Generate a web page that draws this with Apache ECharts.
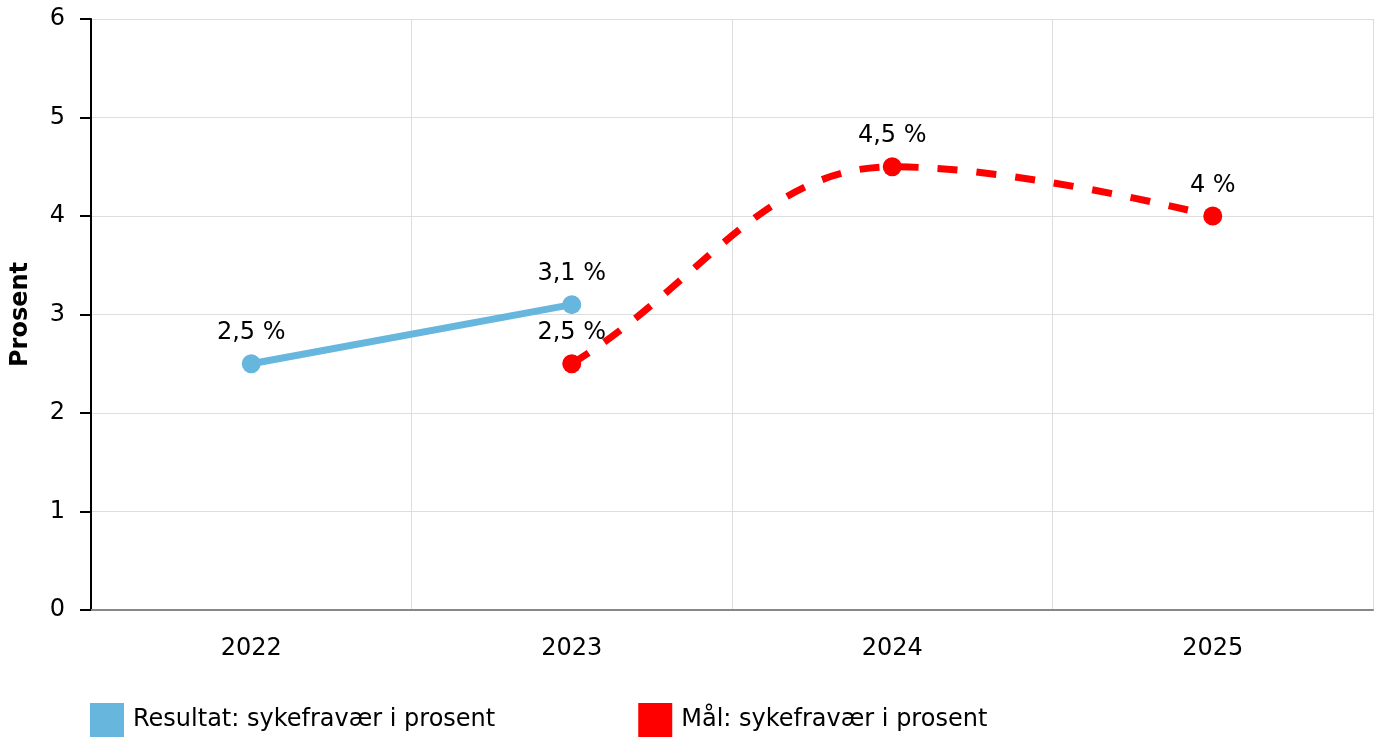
<!DOCTYPE html>
<html><head><meta charset="utf-8">
<script src="https://cdn.jsdelivr.net/npm/echarts@6/dist/echarts.min.js"></script>
<style>html,body{margin:0;padding:0;background:#fff}#c{width:1377px;height:738px}</style>
</head><body><div id="c"></div>
<script>
const categories = ['2022', '2023', '2024', '2025'];
const resultat = [2.5, 3.1, null, null];
const maal = [null, 2.5, 4.5, 4];
const seriesNames = ['Resultat: sykefravær i prosent', 'Mål: sykefravær i prosent'];
const yAxisName = 'Prosent';

const font = 'DejaVu Sans';
const FS = 24;
const BLUE = '#66b6de', RED = '#ff0000';
const fmt = p => String(p.value).replace('.', ',') + ' %';

// Spline path (control points derived from projected data points)
function splinePath(values, api) {
  const pts = values.map((v, i) => v == null ? null : api.coord([i, v]));
  const segs = [];
  let cur = [];
  pts.forEach(p => { if (p) cur.push(p); else { if (cur.length) segs.push(cur); cur = []; } });
  if (cur.length) segs.push(cur);
  const s = 1.5, d = s + 1;
  let path = '';
  segs.forEach(seg => {
    const ctrl = seg.map((p, i) => {
      const prev = seg[i - 1], next = seg[i + 1];
      if (prev && next) {
        let lx = (s * p[0] + prev[0]) / d, ly = (s * p[1] + prev[1]) / d;
        let rx = (s * p[0] + next[0]) / d, ry = (s * p[1] + next[1]) / d;
        if (rx !== lx) {
          const corr = ((ry - ly) * (rx - p[0])) / (rx - lx) + p[1] - ry;
          ly += corr; ry += corr;
        }
        if (ly > prev[1] && ly > p[1]) { ly = Math.max(prev[1], p[1]); ry = 2 * p[1] - ly; }
        else if (ly < prev[1] && ly < p[1]) { ly = Math.min(prev[1], p[1]); ry = 2 * p[1] - ly; }
        if (ry > next[1] && ry > p[1]) { ry = Math.max(next[1], p[1]); ly = 2 * p[1] - ry; }
        else if (ry < next[1] && ry < p[1]) { ry = Math.min(next[1], p[1]); ly = 2 * p[1] - ry; }
        return {l: [lx, ly], r: [rx, ry]};
      }
      if (!prev && next) {
        return {l: null, r: [(s * p[0] + next[0]) / d, (s * p[1] + next[1]) / d]};
      }
      return {l: null, r: null};
    });
    seg.forEach((p, i) => {
      if (i === 0) { path += 'M' + p[0] + ' ' + p[1]; return; }
      const a = ctrl[i - 1].r || seg[i - 1];
      const b = ctrl[i].l || p;
      path += 'C' + a[0] + ' ' + a[1] + ' ' + b[0] + ' ' + b[1] + ' ' + p[0] + ' ' + p[1];
    });
  });
  return path;
}

const chart = echarts.init(document.getElementById('c'));
chart.setOption({
  animation: false,
  textStyle: {fontFamily: font},
  grid: {left: 91, right: 4, top: 19, bottom: 128, containLabel: false, outerBoundsMode: 'none'},
  legend: {
    left: 90, bottom: 1, padding: 0, itemWidth: 34, itemHeight: 34, itemGap: 143,
    icon: 'rect',
    textStyle: {fontFamily: font, fontSize: FS, color: '#000', padding: [0, 0, 0, 4]},
    data: [
      {name: seriesNames[0], itemStyle: {color: BLUE}},
      {name: seriesNames[1], itemStyle: {color: RED}}
    ]
  },
  xAxis: {
    type: 'category', data: categories, boundaryGap: true,
    axisLine: {lineStyle: {color: '#888', width: 2}},
    axisTick: {alignWithLabel: true, length: 10, lineStyle: {color: '#aaa', width: 1}},
    axisLabel: {fontFamily: font, fontSize: FS, color: '#000', margin: 27},
    splitLine: {show: true, lineStyle: {color: '#ddd', width: 1}}
  },
  yAxis: {
    type: 'value', min: 0, max: 6, interval: 1,
    name: yAxisName, nameLocation: 'middle', nameGap: 58, nameRotate: 90,
    nameTextStyle: {fontFamily: font, fontSize: FS, fontWeight: 'bold', color: '#000'},
    axisLine: {show: true, lineStyle: {color: '#000', width: 2}},
    axisTick: {show: true, length: 11, lineStyle: {color: '#000', width: 2}},
    axisLabel: {fontFamily: font, fontSize: FS, color: '#000', margin: 26},
    splitLine: {show: true, lineStyle: {color: '#ddd', width: 1}}
  },
  series: [
    {
      name: seriesNames[0], type: 'line', data: resultat, z: 3,
      color: BLUE, symbol: 'circle', symbolSize: 19,
      lineStyle: {width: 7, color: BLUE},
      itemStyle: {color: BLUE},
      label: {show: true, position: 'top', distance: 9, formatter: fmt, fontFamily: font, fontSize: FS, color: '#000'}
    },
    {
      name: seriesNames[1], type: 'line', data: maal, z: 3,
      color: RED, symbol: 'circle', symbolSize: 19,
      lineStyle: {width: 7, color: RED, opacity: 0},
      itemStyle: {color: RED},
      label: {show: true, position: 'top', distance: 9, formatter: fmt, fontFamily: font, fontSize: FS, color: '#000'}
    },
    {
      name: seriesNames[1], type: 'custom', z: 2, silent: true,
      coordinateSystem: 'cartesian2d',
      data: [[1, maal[1]]],
      encode: {x: 0, y: 1},
      renderItem: function (params, api) {
        return {
          type: 'path',
          shape: {pathData: splinePath(maal, api)},
          style: {fill: 'none', stroke: RED, lineWidth: 7, lineDash: [20, 19], lineCap: 'butt'}
        };
      }
    }
  ]
});
</script></body></html>
